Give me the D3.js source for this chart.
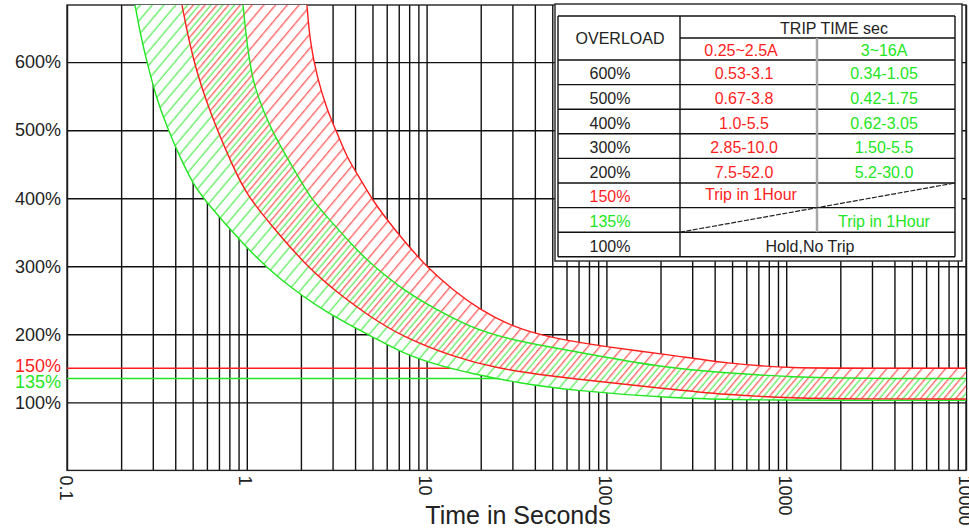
<!DOCTYPE html>
<html>
<head>
<meta charset="utf-8">
<script src="https://cdn.jsdelivr.net/npm/d3@7"></script>
<style>
  body { margin: 0; background: #fff; }
  svg { display: block; font-family: "Liberation Sans", Arial, sans-serif; }
</style>
</head>
<body>
<script>
// Axis ticks
var xTickLabels = [0.1, 1, 10, 100, 1000, 10000];
var yGridTicks = [100, 200, 300, 400, 500, 600];
var yTickLabels = [100, 135, 150, 200, 300, 400, 500, 600];

// Trip curves: [seconds, overload %]
// 0.25~2.5A (red) band
var redMin = [[0.436, 684], [0.496, 607], [0.624, 525], [0.838, 446], [1.0, 405], [1.35, 362],
  [2.25, 294], [3.43, 255], [4.84, 226], [7.39, 196], [14.0, 167], [24.5, 150], [50.5, 138],
  [95.7, 130], [199, 121], [467, 111], [1091, 106], [2572, 105], [10000, 105]];
var redMax = [[2.16, 684], [2.25, 628], [2.46, 578], [2.79, 530], [3.18, 496], [3.61, 460],
  [4.09, 437], [5.05, 395], [6.26, 363], [7.39, 339], [10.0, 299], [14.0, 265], [19.8, 236],
  [30.2, 211], [46.6, 196], [95.7, 182], [226, 170], [467, 157], [1091, 150], [2572, 150],
  [10000, 150]];
// 3~16A (green) band
var greenMin = [[0.239, 684], [0.255, 643], [0.279, 599], [0.317, 544], [0.360, 505], [0.425, 460],
  [0.502, 422], [0.566, 401], [1.0, 326], [1.53, 280], [2.78, 231], [5.05, 196], [7.39, 172],
  [11.4, 155], [17.4, 143], [33.1, 128], [62.8, 118], [226, 106], [715, 103], [10000, 103]];
var greenMax = [[0.953, 684], [1.0, 628], [1.083, 569], [1.231, 530], [1.399, 496], [1.673, 460],
  [1.977, 427], [2.246, 402], [2.78, 373], [4.09, 324], [4.84, 305], [7.39, 265], [11.4, 236],
  [17.4, 211], [26.6, 195], [46.6, 182], [95.7, 167], [199, 152], [467, 143], [1091, 137],
  [2572, 135], [10000, 135]];

// Table contents
var tableOverload = ["600%", "500%", "400%", "300%", "200%", "150%", "135%", "100%"];
var tableSmall = ["0.53-3.1", "0.67-3.8", "1.0-5.5", "2.85-10.0", "7.5-52.0", "Trip in 1Hour", "", ""];
var tableLarge = ["0.34-1.05", "0.42-1.75", "0.62-3.05", "1.50-5.5", "5.2-30.0", "", "Trip in 1Hour", ""];

var RED = "#ff1e1e", GREEN = "#22e622";

var margin = { top: 5, right: 3, bottom: 58.6, left: 67 },
    width = 969 - margin.left - margin.right,
    height = 529 - margin.top - margin.bottom;

var svgRoot = d3.select("body").append("svg")
    .attr("width", 969)
    .attr("height", 529);

var svg = svgRoot.append("g")
    .attr("transform", "translate(" + margin.left + "," + margin.top + ")");

// Scales
var x = d3.scaleLog().domain([0.1, 10000]).range([0, width]);
var y = d3.scaleLinear().domain([0, 684]).range([height, 0]);

var defs = svgRoot.append("defs");
defs.append("clipPath").attr("id", "plot-clip")
  .append("rect").attr("width", width).attr("height", height);

// hatch patterns, offset half a period so red and green interleave
function hatch(id, color, offset) {
  var p = defs.append("pattern")
      .attr("id", id)
      .attr("patternUnits", "userSpaceOnUse")
      .attr("width", 9).attr("height", 9)
      .attr("patternTransform", "rotate(40)");
  p.append("line")
      .attr("x1", offset).attr("y1", 0).attr("x2", offset).attr("y2", 9)
      .attr("stroke", color).attr("stroke-width", 1.2).attr("stroke-opacity", 0.8);
}
hatch("hatch-red", RED, 6.75);
hatch("hatch-green", GREEN, 2.25);

// Vertical grid (every 1..9 x decade)
var gridX = [];
for (var e = -1; e <= 3; e++) {
  for (var m = 1; m <= 9; m++) gridX.push(+(m * Math.pow(10, e)).toPrecision(2));
}
gridX.push(10000);

svg.append("g")
    .attr("transform", "translate(0," + height + ")")
    .call(d3.axisBottom(x).tickValues(gridX).tickSize(-height).tickFormat(""))
    .call(function (g) {
      g.select(".domain").remove();
      g.selectAll("line").attr("stroke", "#111").attr("stroke-width", 1.4);
    });

// Horizontal grid
svg.append("g")
    .call(d3.axisLeft(y).tickValues(yGridTicks).tickSize(-width).tickFormat(""))
    .call(function (g) {
      g.select(".domain").remove();
      g.selectAll("line").attr("stroke", "#111").attr("stroke-width", 1.4);
    });

// Plot frame
svg.append("rect")
    .attr("width", width).attr("height", height)
    .attr("fill", "none").attr("stroke", "#222").attr("stroke-width", 1.4);

var plot = svg.append("g").attr("clip-path", "url(#plot-clip)");

// 150% and 135% limit lines
plot.append("line")
    .attr("x1", 0).attr("x2", width)
    .attr("y1", y(150)).attr("y2", y(150))
    .attr("stroke", RED).attr("stroke-width", 1.5);
plot.append("line")
    .attr("x1", 0).attr("x2", width)
    .attr("y1", y(135)).attr("y2", y(135))
    .attr("stroke", GREEN).attr("stroke-width", 1.5);

var line = d3.line()
    .x(function (d) { return x(d[0]); })
    .y(function (d) { return y(d[1]); })
    .curve(d3.curveBasis);

function bandPath(lo, hi) {
  return line(lo) + line(hi.slice().reverse()).replace("M", "L") + "Z";
}

var bands = [
  { lo: greenMin, hi: greenMax, color: GREEN, hatch: "hatch-green" },
  { lo: redMin, hi: redMax, color: RED, hatch: "hatch-red" }
];

// White fill hides the grid under the bands
bands.forEach(function (b) {
  plot.append("path").attr("d", bandPath(b.lo, b.hi)).attr("fill", "#fff");
});
bands.forEach(function (b) {
  plot.append("path").attr("d", bandPath(b.lo, b.hi)).attr("fill", "url(#" + b.hatch + ")");
});
bands.forEach(function (b) {
  [b.lo, b.hi].forEach(function (c) {
    plot.append("path").datum(c)
        .attr("d", line)
        .attr("fill", "none")
        .attr("stroke", b.color)
        .attr("stroke-width", 1.4);
  });
});

// Y labels
svg.append("g")
    .call(d3.axisLeft(y).tickValues(yTickLabels).tickSize(0).tickPadding(6)
      .tickFormat(function (d) { return d + "%"; }))
    .call(function (g) {
      g.select(".domain").remove();
      g.selectAll("text")
        .attr("font-family", "'Liberation Sans', Arial, sans-serif")
        .attr("font-size", 18)
        .attr("fill", function (d) { return d === 150 ? RED : d === 135 ? GREEN : "#222"; })
        .attr("transform", function (d) { return d === 150 ? "translate(0,-3)" : d === 135 ? "translate(0,3)" : null; });
    });

// X labels, rotated
svg.append("g")
    .attr("transform", "translate(0," + height + ")")
    .call(d3.axisBottom(x).tickValues(xTickLabels).tickSize(0)
      .tickFormat(function (d) { return String(d); }))
    .call(function (g) {
      g.select(".domain").remove();
      g.selectAll("text")
        .attr("x", 0).attr("y", 0).attr("dy", null)
        .attr("transform", "translate(-2,5) rotate(90)")
        .attr("text-anchor", "start")
        .attr("dominant-baseline", "central")
        .attr("font-family", "'Liberation Sans', Arial, sans-serif")
        .attr("font-size", 18)
        .attr("fill", "#222");
    });

svgRoot.append("text")
    .attr("x", 518).attr("y", 524)
    .attr("text-anchor", "middle")
    .attr("font-size", 25)
    .attr("fill", "#222")
    .text("Time in Seconds");

// Table
var tbl = svgRoot.append("g");
var colX = [558, 680, 817, 955];
var top0 = 16, headH = 22, rowH = 24.6;
var bodyTop = top0 + 2 * headH;
var bodyBottom = bodyTop + tableOverload.length * rowH;

tbl.append("rect")
    .attr("x", 555).attr("y", 4).attr("width", 407).attr("height", 257)
    .attr("fill", "#fff").attr("stroke", "#333").attr("stroke-width", 1.5);

function hline(x1, x2, yy, w) {
  tbl.append("line").attr("x1", x1).attr("x2", x2).attr("y1", yy).attr("y2", yy)
     .attr("stroke", "#111").attr("stroke-width", w || 1.4);
}
function vline(xx, y1, y2, color, w) {
  tbl.append("line").attr("x1", xx).attr("x2", xx).attr("y1", y1).attr("y2", y2)
     .attr("stroke", color || "#111").attr("stroke-width", w || 1.4);
}

hline(colX[0], colX[3], top0);
hline(colX[1], colX[3], top0 + headH);
for (var r = 0; r <= tableOverload.length; r++) hline(colX[0], colX[3], bodyTop + r * rowH);
vline(colX[0], top0, bodyBottom);
vline(colX[1], top0, bodyBottom);
vline(colX[3], top0, bodyBottom);
vline(colX[2], top0 + headH, bodyTop + 7 * rowH, "#a8a8a8", 2.5);

// dashed diagonal across the 150% / 135% rows
tbl.append("line")
    .attr("x1", colX[1]).attr("y1", bodyTop + 7 * rowH)
    .attr("x2", colX[3]).attr("y2", bodyTop + 5 * rowH)
    .attr("stroke", "#222").attr("stroke-width", 1.2)
    .attr("stroke-dasharray", "5,1.5");

function cell(txt, cx, cy, color) {
  tbl.append("text")
     .attr("x", cx).attr("y", cy)
     .attr("text-anchor", "middle")
     .attr("dominant-baseline", "central")
     .attr("font-size", 16)
     .attr("fill", color)
     .text(txt);
}

cell("OVERLOAD", 620, top0 + headH, "#222");
cell("TRIP TIME sec", 834, top0 + headH / 2 + 1, "#222");
cell("0.25~2.5A", 741, top0 + headH * 1.5 + 1, RED);
cell("3~16A", 884, top0 + headH * 1.5 + 1, GREEN);

tableOverload.forEach(function (t, i) {
  var cy = bodyTop + i * rowH + rowH / 2 + 1.5;
  cell(t, 610, cy, t === "150%" ? RED : t === "135%" ? GREEN : "#222");
  if (tableSmall[i]) cell(tableSmall[i], tableSmall[i].indexOf("Trip") === 0 ? 751 : 744, cy - (i === 5 ? 2 : 0), RED);
  if (tableLarge[i]) cell(tableLarge[i], 884, cy, GREEN);
});
cell("Hold,No Trip", 810, bodyTop + 7 * rowH + rowH / 2 + 1.5, "#222");
</script>
</body>
</html>
